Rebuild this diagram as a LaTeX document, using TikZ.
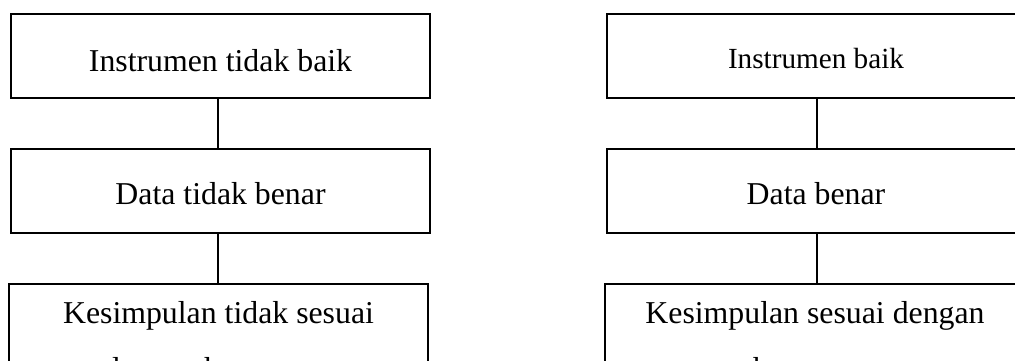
\documentclass[tikz,border=0pt]{standalone}
\usepackage{fontspec}
\setmainfont{Liberation Serif}
\begin{document}
\begin{tikzpicture}[x=1pt,y=-1pt,
  box/.style={draw=black,line width=1.8pt,rectangle,inner sep=0pt},
  link/.style={draw=black,line width=1.3pt},
  txt/.style={anchor=base,inner sep=0pt,font=\fontsize{31.8}{38}\selectfont},
  txtsm/.style={anchor=base,inner sep=0pt,font=\fontsize{29.2}{35}\selectfont}]
\useasboundingbox (0,0) rectangle (1015,360);
\clip (0,0) rectangle (1015,360);
% left column
\node[box,minimum width=419pt,minimum height=84pt] (l1) at (220.5,56) {};
\node[box,minimum width=419pt,minimum height=84pt] (l2) at (220.5,191) {};
\node[box,minimum width=419pt,minimum height=140pt] (l3) at (218.5,354) {};
\node[txt] (tl1) at (220.5,71) {Instrumen tidak baik};
\node[txt] (tl2) at (220.5,204) {Data tidak benar};
\node[txt] (tl3) at (218.5,323) {Kesimpulan tidak sesuai};
\node[txt] (tl4) at (218.5,379) {dengan kenyataan};
\draw[link] (l1.south -| 218,0) coordinate (la) -- (l2.north -| 218,0);
\draw[link] (l2.south -| 218,0) -- (l3.north -| 218,0);
% right column
\node[box,minimum width=420pt,minimum height=84pt] (r1) at (817,56) {};
\node[box,minimum width=420pt,minimum height=84pt] (r2) at (817,191) {};
\node[box,minimum width=420pt,minimum height=140pt] (r3) at (815,354) {};
\node[txtsm] (tr1) at (816,68) {Instrumen baik};
\node[txt] (tr2) at (816,204) {Data benar};
\node[txt] (tr3) at (815,323) {Kesimpulan sesuai dengan};
\node[txt] (tr4) at (817,379) {kenyataan};
\draw[link] (r1.south) -- (r2.north);
\draw[link] (r2.south) -- (r3.north -| r2.south);
\end{tikzpicture}
\end{document}
